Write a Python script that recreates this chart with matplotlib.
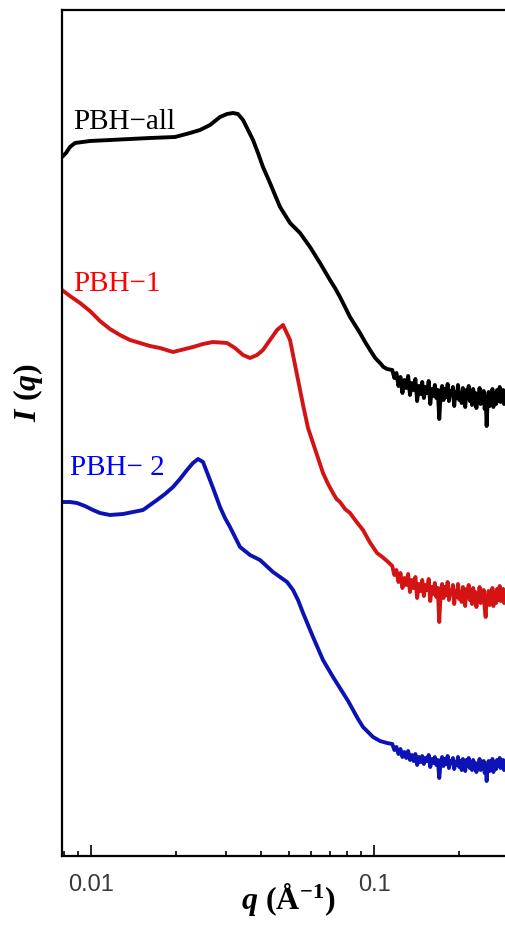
import numpy as np
import matplotlib
matplotlib.use("Agg")
import matplotlib.pyplot as plt
from matplotlib.ticker import LogLocator, FixedLocator, NullFormatter

plt.rcParams['font.family'] = ['Liberation Serif', 'DejaVu Serif']
plt.rcParams['mathtext.fontset'] = 'custom'
plt.rcParams['mathtext.rm'] = 'Liberation Serif:bold'
plt.rcParams['mathtext.it'] = 'Liberation Serif:bold:italic'
plt.rcParams['mathtext.bf'] = 'Liberation Serif:bold'

# ---------------- data (q in 1/Angstrom, intensity in arbitrary offset units) ----
q_tail = [0.116, 0.118, 0.120, 0.122, 0.124, 0.126, 0.128, 0.130, 0.132, 0.134,
          0.136, 0.138, 0.140, 0.142, 0.144, 0.146, 0.148, 0.150, 0.152, 0.154,
          0.156, 0.158, 0.160, 0.162, 0.164, 0.166, 0.168, 0.170, 0.172, 0.174,
          0.176, 0.178, 0.180, 0.182, 0.184, 0.186, 0.188, 0.190, 0.192, 0.194,
          0.196, 0.198, 0.200, 0.202, 0.204, 0.206, 0.208, 0.210, 0.212, 0.214,
          0.216, 0.218, 0.220, 0.222, 0.224, 0.226, 0.228, 0.230, 0.232, 0.234,
          0.236, 0.238, 0.240, 0.242, 0.244, 0.246, 0.248, 0.250, 0.252, 0.254,
          0.256, 0.258, 0.260, 0.262, 0.264, 0.266, 0.268, 0.270, 0.272, 0.274,
          0.276, 0.278, 0.280, 0.282, 0.284, 0.286, 0.288, 0.290, 0.292, 0.294,
          0.296]

q_all = [0.00790, 0.00816, 0.00843, 0.00878, 0.00992, 0.01167, 0.01373, 0.01616,
         0.01981, 0.02238, 0.02427, 0.02634, 0.02857, 0.03024, 0.03175, 0.03307,
         0.03445, 0.03587, 0.03737, 0.03891, 0.04053, 0.04290, 0.04655, 0.05050,
         0.05478, 0.05941, 0.06444, 0.06990, 0.0728, 0.07583, 0.0790, 0.08226,
         0.0857, 0.08923, 0.0930, 0.09681, 0.1010, 0.10500, 0.1080, 0.11116]
I_all = [699, 703, 709, 713, 715, 716, 717, 718, 719, 723, 726, 731, 739, 742,
         743, 742, 736, 726, 716, 703, 689, 673, 649, 633, 623, 609, 593, 576,
         568, 559, 549, 539, 531, 523, 514, 506, 498, 493, 489, 487]
I_all_tail = [486, 478, 483, 470, 479, 463, 476, 468, 480, 461,
              473, 466, 477, 455, 470, 462, 474, 458, 469, 463,
              475, 452, 467, 460, 471, 458, 466, 437, 462, 470,
              456, 467, 459, 472, 455, 465, 461, 469, 450, 464,
              458, 471, 456, 463, 453, 468, 460, 449, 466, 458,
              470, 455, 462, 451, 467, 457, 463, 448, 461, 455,
              468, 452, 460, 454, 465, 447, 459, 430, 456, 464,
              450, 460, 455, 467, 449, 458, 463, 452, 466, 455,
              461, 469, 454, 463, 457, 466, 452, 461, 456, 463,
              455]

q_1 = [0.00790, 0.00843, 0.00915, 0.00992, 0.01076, 0.01167, 0.01266, 0.01373,
       0.01490, 0.01616, 0.01753, 0.01949, 0.02148, 0.02293, 0.02488, 0.02699,
       0.03024, 0.03227, 0.03445, 0.03646, 0.03860, 0.04053, 0.04290, 0.04543,
       0.04770, 0.05050, 0.05346, 0.05614, 0.05845, 0.06039, 0.06340, 0.06603,
       0.0688, 0.07163, 0.0737, 0.07583, 0.0790, 0.08226, 0.0868, 0.09143,
       0.0965, 0.10247, 0.1070, 0.11116]
I_1 = [566, 560, 553, 545, 535, 527, 521, 516, 513, 510, 508, 504, 507, 509,
       512, 514, 513, 508, 501, 498, 501, 506, 516, 526, 531, 516, 481, 451,
       428, 416, 398, 383, 372, 363, 357, 354, 347, 343, 334, 326, 314, 303,
       299, 295]
I_1_tail = [290, 281, 286, 274, 283, 268, 278, 271, 282, 264,
            276, 268, 279, 258, 272, 265, 276, 260, 271, 266,
            277, 255, 269, 262, 273, 259, 268, 234, 264, 272,
            258, 269, 261, 274, 256, 266, 262, 271, 252, 265,
            259, 272, 257, 264, 254, 269, 261, 250, 267, 259,
            271, 256, 263, 252, 268, 258, 264, 249, 262, 256,
            269, 253, 261, 255, 266, 248, 239, 260, 257, 265,
            251, 261, 256, 268, 250, 259, 264, 253, 267, 256,
            262, 270, 255, 264, 258, 267, 253, 262, 257, 264,
            256]

q_2 = [0.00790, 0.00843, 0.00892, 0.00952, 0.01016, 0.01076, 0.01167, 0.01298,
       0.01407, 0.01527, 0.01616, 0.01711, 0.01826, 0.01949, 0.02063, 0.02184,
       0.02293, 0.02389, 0.02488, 0.02699, 0.02857, 0.02975, 0.03099, 0.03362,
       0.03646, 0.03955, 0.04396, 0.04929, 0.05175, 0.05388, 0.05614, 0.06088,
       0.06603, 0.07163, 0.07770, 0.0810, 0.08429, 0.0878, 0.09143, 0.0952,
       0.09919, 0.1050, 0.11116]
I_2 = [354, 354, 353, 350, 346, 343, 341, 342, 344, 346, 351, 356, 362, 369,
       377, 386, 393, 397, 394, 368, 349, 338, 329, 309, 301, 296, 284, 274,
       266, 256, 243, 219, 196, 179, 163, 155, 146, 137, 129, 124, 119, 115,
       113]
I_2_tail = [112, 106, 109, 102, 107, 99, 104, 98, 105, 96,
            101, 95, 102, 91, 99, 94, 100, 92, 98, 95,
            101, 89, 97, 93, 99, 91, 96, 78, 94, 99,
            90, 97, 92, 100, 88, 95, 93, 98, 87, 94,
            91, 99, 89, 95, 86, 97, 92, 85, 96, 90,
            98, 88, 94, 86, 96, 90, 93, 84, 92, 89,
            97, 86, 92, 88, 95, 83, 91, 75, 90, 95,
            85, 93, 89, 97, 84, 91, 94, 87, 96, 90,
            93, 98, 88, 94, 90, 96, 86, 92, 89, 94,
            89]

labels = ["PBH\u2212all", "PBH\u22121", "PBH\u2212 2"]
line_colors = ["#000000", "#d41414", "#0c12b4"]
text_colors = ["#000000", "#ff0000", "#0000ff"]
x_ticks = [0.01, 0.1]
x_ticklabels = ["0.01", "0.1"]

# ---------------- figure ----------------
W, H = 506, 927
fig = plt.figure(figsize=(W / 100, H / 100), dpi=100)
ax = fig.add_axes([62 / W, 1 - 856 / H, 1 - 62 / W, (856 - 10) / H])

series = [(q_all + q_tail, I_all + I_all_tail),
          (q_1 + q_tail, I_1 + I_1_tail),
          (q_2 + q_tail, I_2 + I_2_tail)]
for (qq, ii), c in zip(series, line_colors):
    ax.plot(qq, ii, color=c, lw=2.8)

ax.set_xscale('log')
ax.set_xlim(0.0079, 0.2926)
ax.set_ylim(0, 846)

ax.xaxis.set_major_locator(FixedLocator(x_ticks))
ax.set_xticklabels(x_ticklabels)
ax.xaxis.set_minor_locator(LogLocator(base=10, subs=np.arange(2, 10)))
ax.xaxis.set_minor_formatter(NullFormatter())
ax.tick_params(axis='x', which='major', direction='in', length=8, width=1.2,
               pad=13, labelsize=17, labelcolor='#3a3a3a')
ax.tick_params(axis='x', which='minor', direction='in', length=3.5, width=1.2)
for lbl in ax.get_xticklabels():
    lbl.set_fontfamily('Liberation Sans')
ax.set_yticks([])
ax.spines['right'].set_visible(False)
for s in ['left', 'bottom', 'top']:
    ax.spines[s].set_linewidth(1.6)

text_pos = [(73, 122), (73, 284), (70, 468)]
for lab, tc, (px, py) in zip(labels, text_colors, text_pos):
    ax.text((px - 62) / (W - 62), (856 - py) / 846, lab, color=tc,
            fontsize=21, ha='left', va='center', transform=ax.transAxes)

fig.text(28 / W, 1 - 393 / H, r'$I\ (q)$', rotation=90, fontsize=23,
         ha='center', va='center')
fig.text(288 / W, 1 - 899 / H, r'$q\ (\mathrm{Å}^{-1})$', fontsize=23,
         ha='center', va='center')

fig.savefig('out.png', dpi=100)
